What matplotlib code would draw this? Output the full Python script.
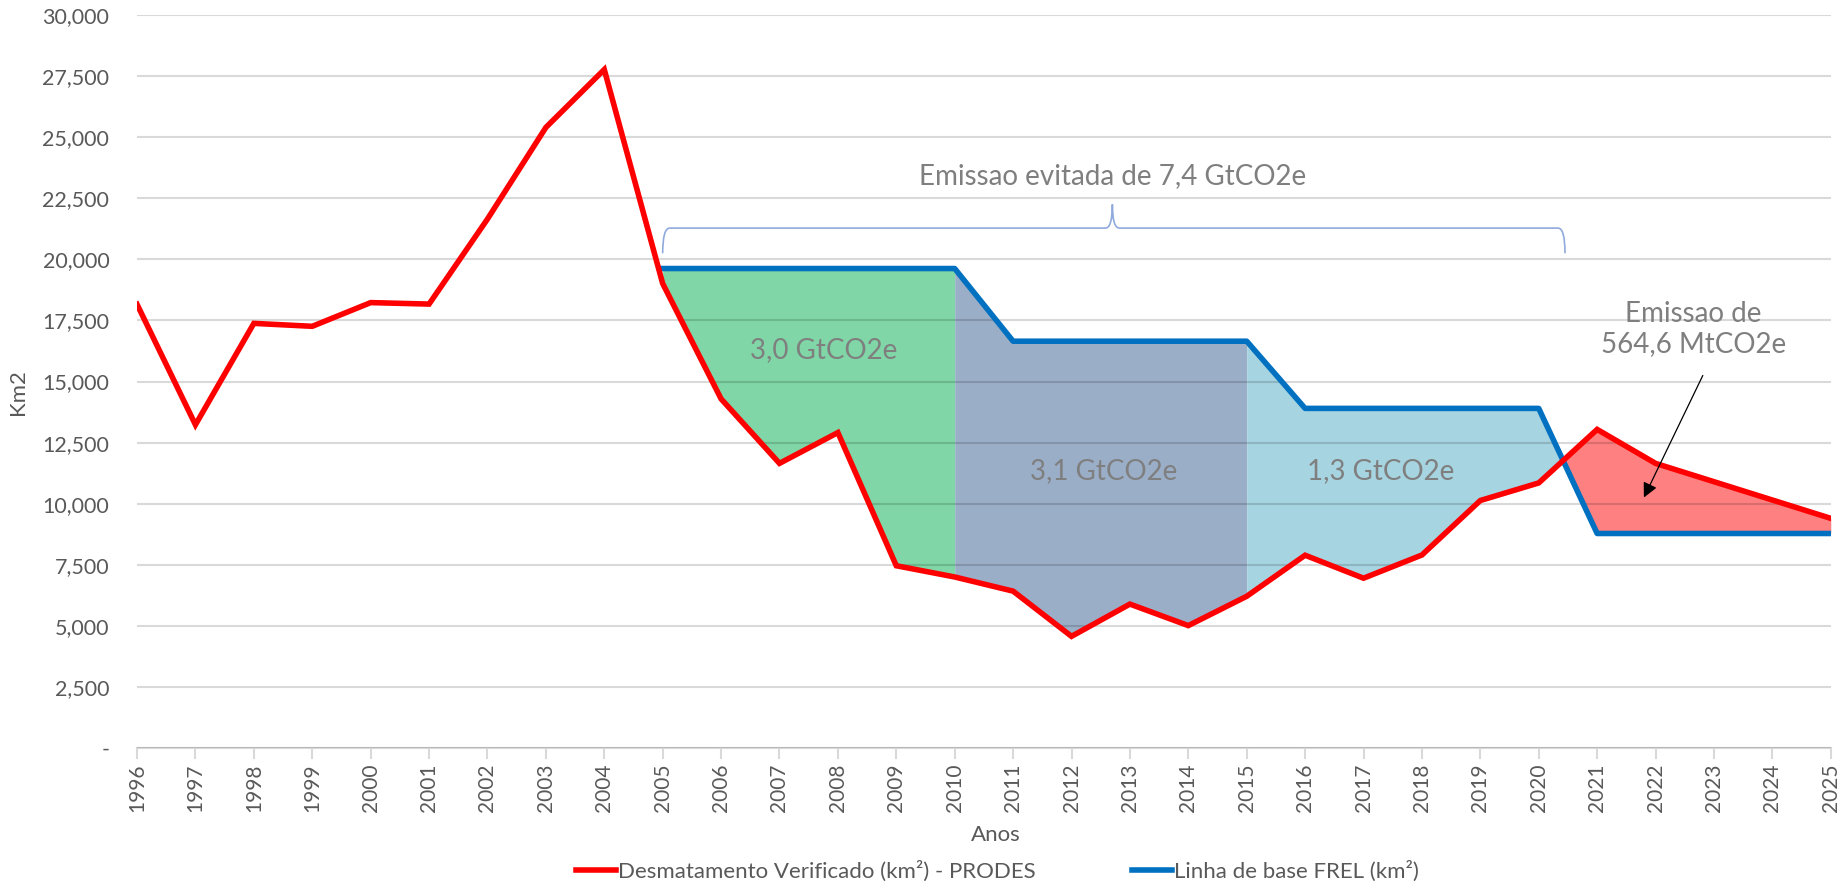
import numpy as np
import matplotlib
matplotlib.use("Agg")
import matplotlib.pyplot as plt
from matplotlib.path import Path
from matplotlib.patches import PathPatch
from matplotlib.ticker import FuncFormatter

plt.rcParams["font.family"] = ["Lato", "DejaVu Sans"]

# ---- data --------------------------------------------------------------- #
years = np.arange(1996, 2026)
prodes = [18160, 13230, 17380, 17260, 18230, 18170, 21650, 25400, 27770, 19010,
          14290, 11650, 12910, 7460, 7000, 6420, 4570, 5890, 5010, 6210,
          7890, 6950, 7900, 10130, 10850, 13040, 11650, 10900, 10150, 9400]
frel_years = np.arange(2005, 2026)
frel = [19625] * 6 + [16650] * 5 + [13900] * 5 + [8780] * 5

periods = [(2005, 2010), (2010, 2015), (2015, 2025)]
period_colors = ["#80d6a6", "#9aaec8", "#a6d4e1"]
period_labels = ["3,0 GtCO2e", "3,1 GtCO2e", "1,3 GtCO2e"]
period_label_pos = [(2007.75, 16300), (2012.55, 11350), (2017.3, 11350)]
excess_color = "#ff8080"

brace_x = (2005.0, 2012.7, 2020.45)
brace_y = (20250, 21280, 22250)
avoided_label = "Emissao evitada de 7,4 GtCO2e"
excess_label = "Emissao de\n564,6 MtCO2e"

GREY = "#595959"
TXT = "#7f7f7f"

fig = plt.figure(figsize=(18.37, 8.85), dpi=100)
ax = fig.add_axes([0.0746, 0.1548, 0.922, 0.8282])

prodes_a = np.array(prodes, float)
frel_a = np.array(frel, float)
sub = prodes_a[years >= 2005]

for (a, b), col in zip(periods, period_colors):
    m = (frel_years >= a) & (frel_years <= b)
    ax.fill_between(frel_years[m], sub[m], frel_a[m], where=frel_a[m] >= sub[m],
                    interpolate=True, color=col, lw=0, zorder=1)
m = frel_years >= 2020
ax.fill_between(frel_years[m], sub[m], frel_a[m], where=sub[m] > frel_a[m],
                interpolate=True, color=excess_color, lw=0, zorder=1)

ax.grid(axis="y", color="black", alpha=0.15, lw=1.5, zorder=2)
ax.set_axisbelow(False)

ax.plot(years, prodes, color="#ff0000", lw=4, zorder=4, solid_joinstyle="miter",
        label="Desmatamento Verificado (km²) - PRODES")
ax.plot(frel_years, frel, color="#0070c0", lw=4, zorder=3,
        label="Linha de base FREL (km²)")

for lab, (x, y) in zip(period_labels, period_label_pos):
    ax.text(x, y, lab, color=TXT, fontsize=20, ha="center", va="center", zorder=5)

ax.text(brace_x[1], 23400, avoided_label, color=TXT, fontsize=20,
        ha="center", va="center")
ax.text(2022.65, 17150, excess_label, color=TXT, fontsize=20,
        ha="center", va="center", linespacing=1.15)
ax.annotate("", xy=(2021.78, 10150), xytext=(2022.83, 15350),
            arrowprops=dict(arrowstyle="-|>", color="black", lw=0.9,
                            mutation_scale=22), zorder=6)

# curly brace over the avoided-emission period
x0, xm, x1 = brace_x
yl, ym, yt = brace_y
d = 0.12
verts = [(x0, yl), (x0, ym), (x0 + d, ym),
         (xm - d, ym), (xm, ym), (xm, yt),
         (xm, ym), (xm + d, ym),
         (x1 - d, ym), (x1, ym), (x1, yl)]
codes = [Path.MOVETO, Path.CURVE3, Path.CURVE3,
         Path.LINETO, Path.CURVE3, Path.CURVE3,
         Path.CURVE3, Path.CURVE3,
         Path.LINETO, Path.CURVE3, Path.CURVE3]
ax.add_patch(PathPatch(Path(verts, codes), fc="none", ec="#8faadc", lw=1.2))

ax.set_xlim(1996, 2025)
ax.set_ylim(0, 30000)
ax.set_xticks(years)
ax.set_xticklabels([str(y) for y in years], rotation=90)
ax.set_yticks(np.arange(0, 30001, 2500))
ax.yaxis.set_major_formatter(FuncFormatter(lambda v, p: "-" if v == 0 else f"{v:,.0f}"))
ax.tick_params(axis="y", length=0, pad=20, labelsize=15.5, labelcolor=GREY)
ax.tick_params(axis="x", length=8, width=1.5, color="#d9d9d9", pad=3,
               labelsize=15, labelcolor=GREY)
for s in ["top", "right", "left"]:
    ax.spines[s].set_visible(False)
ax.spines["bottom"].set_color("#d9d9d9")
ax.spines["bottom"].set_linewidth(1.5)

fig.text(0.542, 0.056, "Anos", color=GREY, fontsize=16, ha="center", va="center")
fig.text(0.010, 0.557, "Km2", color=GREY, fontsize=16, ha="center", va="center",
         rotation=90)

fig.legend(loc="center", bbox_to_anchor=(0.543, 0.016), ncol=2, frameon=False,
           fontsize=16, handlelength=1.8, handletextpad=0.1, columnspacing=4.3,
           labelcolor=GREY)

fig.savefig("out.png", dpi=100)
